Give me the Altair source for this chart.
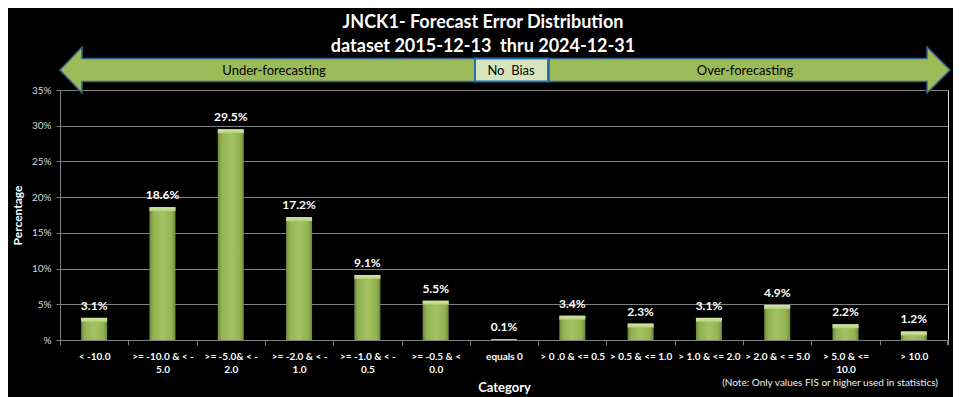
import altair as alt
import pandas as pd

categories = [
    "< -10.0",
    ">= -10.0 & < -|5.0",
    ">= -5.0& < -|2.0",
    ">= -2.0 & < -|1.0",
    ">= -1.0 & < -|0.5",
    ">= -0.5 & <|0.0",
    "equals 0",
    "> 0 .0 & <= 0.5",
    "> 0.5 & <= 1.0",
    "> 1.0 & <= 2.0",
    "> 2.0 & < = 5.0",
    "> 5.0 & <=|10.0",
    "> 10.0",
]
percentages = [3.1, 18.6, 29.5, 17.2, 9.1, 5.5, 0.1, 3.4, 2.3, 3.1, 4.9, 2.2, 1.2]
y_ticks = [0, 5, 10, 15, 20, 25, 30, 35]

title_lines = ["JNCK1- Forecast Error Distribution", "dataset 2015-12-13\u00a0 thru 2024-12-31"]
band_labels = ["Under-forecasting", "No\u00a0 Bias", "Over-forecasting"]
note_text = "(Note: Only values FIS or higher used in statistics)"

df = pd.DataFrame({"cat": categories, "pct": percentages})
one = pd.DataFrame({"k": [0]})

FONT = "Lato"
GREEN = "#9bbb59"
GRID = "#808080"

xenc = alt.X(
    "cat:N",
    sort=categories,
    scale=alt.Scale(paddingInner=0, paddingOuter=0),
    axis=alt.Axis(
        title="Category",
        labelExpr="split(datum.label, '|')",
        labelAngle=0,
        labelColor="#ffffff",
        labelFontSize=10,
        labelFontWeight="bold",
        labelLineHeight=13,
        labelPadding=6,
        labelOverlap=False,
        labelLimit=200,
        tickBand="extent",
        tickSize=5,
        tickColor=GRID,
        domainColor=GRID,
        grid=False,
        titleColor="#ffffff",
        titleFontSize=13,
        titleFontWeight="bold",
        titlePadding=7,
    ),
)
yenc = alt.Y(
    "pct:Q",
    scale=alt.Scale(domain=[0, 35], nice=False),
    axis=alt.Axis(
        title="Percentage",
        values=y_ticks,
        labelExpr="datum.value == 0 ? '%' : datum.value + '%'",
        labelColor="#d9d9d9",
        labelFontSize=10,
        labelPadding=5,
        labelOverlap=False,
        tickSize=4,
        tickColor=GRID,
        domainColor=GRID,
        grid=True,
        gridColor=GRID,
        gridWidth=1,
        titleColor="#ffffff",
        titleFontSize=12,
        titleFontWeight="bold",
        titlePadding=7,
    ),
)

bar_grad = alt.Gradient(
    gradient="linear", x1=0, x2=1, y1=0, y2=0,
    stops=[
        alt.GradientStop(color="#6f8a3c", offset=0),
        alt.GradientStop(color="#93b352", offset=0.15),
        alt.GradientStop(color="#a3c363", offset=0.5),
        alt.GradientStop(color="#93b352", offset=0.85),
        alt.GradientStop(color="#6f8a3c", offset=1),
    ],
)
cap_grad = alt.Gradient(
    gradient="linear", x1=0, x2=0, y1=0, y2=1,
    stops=[
        alt.GradientStop(color="#d3e6a6", offset=0),
        alt.GradientStop(color="#b6d07c", offset=1),
    ],
)

bars = alt.Chart(df).mark_bar(width=26, fill=bar_grad).encode(x=xenc, y=yenc)
caps = (
    alt.Chart(df)
    .transform_calculate(top2="max(0, datum.pct - 0.55)")
    .mark_bar(width=26, fill=cap_grad)
    .encode(x=xenc, y=yenc, y2="top2:Q")
)
labels = (
    alt.Chart(df)
    .transform_calculate(lab="format(datum.pct, '.1f') + '%'")
    .mark_text(dy=-8, baseline="alphabetic", color="#ffffff", fontSize=12, fontWeight="bold", font=FONT)
    .encode(x=xenc, y=yenc, text="lab:N")
)

left_arrow = alt.Chart(one).mark_point(
    shape="M0,-20 L22,-43 L22,-31.5 L415,-31.5 L415,-8.5 L22,-8.5 L22,3 Z",
    size=4, filled=True, fill=GREEN, stroke="#3a5f8c", strokeWidth=1.5, opacity=1,
).encode(x=alt.value(0), y=alt.value(0))
right_arrow = alt.Chart(one).mark_point(
    shape="M489,-31.5 L867,-31.5 L867,-43 L890,-20 L867,3 L867,-8.5 L489,-8.5 Z",
    size=4, filled=True, fill=GREEN, stroke="#3a5f8c", strokeWidth=1.5, opacity=1,
).encode(x=alt.value(0), y=alt.value(0))
nobias_box = alt.Chart(one).mark_rect(fill="#d7e4bd", stroke="#1f6fb5", strokeWidth=2).encode(
    x=alt.value(415), x2=alt.value(488), y=alt.value(-31.5), y2=alt.value(-8.5)
)

band_df = pd.DataFrame({"t": band_labels, "px": [214, 451, 685]})
band_text = alt.Chart(band_df).mark_text(
    color="#000000", fontSize=13, font=FONT, baseline="middle", align="center"
).encode(x=alt.X("px:Q", scale=None), y=alt.value(-19.5), text="t:N")

title_df = pd.DataFrame({"t": title_lines, "py": [-62, -38]})
title_text = alt.Chart(title_df).mark_text(
    color="#ffffff", fontSize=18, fontWeight="bold", font=FONT, baseline="alphabetic", align="center"
).encode(x=alt.value(423), y=alt.Y("py:Q", scale=None), text="t:N")

note = alt.Chart(one).mark_text(
    text=note_text, color="#f2f2f2", fontSize=10, font=FONT, align="right", baseline="middle"
).encode(x=alt.value(878), y=alt.value(293))

end_tick = alt.Chart(one).mark_rule(color=GRID).encode(
    x=alt.value(887.5), y=alt.value(250), y2=alt.value(255)
)

chart = (
    alt.layer(bars, caps, labels, end_tick, left_arrow, right_arrow, nobias_box, band_text, title_text, note)
    .properties(
        width=888,
        height=250,
        autosize=alt.AutoSizeParams(type="none"),
        padding={"left": 52, "top": 82, "right": 5, "bottom": 57},
        background="#000000",
        usermeta={"embedOptions": {
            "defaultStyle": "html,body{background:#000000;} body{margin:8px 8px 0 8px;}"
        }},
    )
    .configure_view(fill="#404040", stroke=None)
    .configure(font=FONT)
)

chart.save("out.html", embed_options={"renderer": "svg", "actions": False})
